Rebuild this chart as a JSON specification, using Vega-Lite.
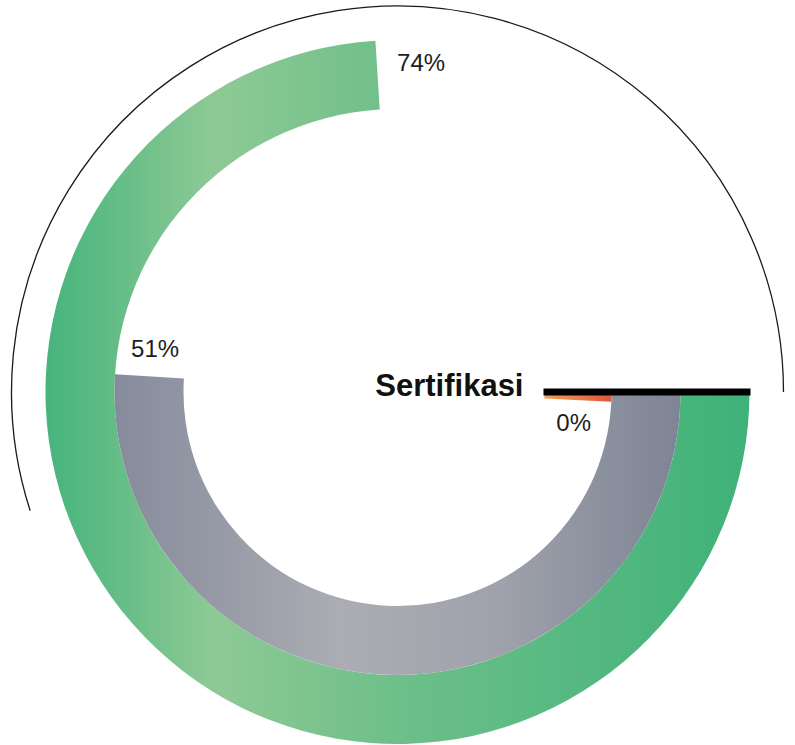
{
  "$schema": "https://vega.github.io/schema/vega-lite/v6.json",
  "width": 795,
  "height": 706,
  "autosize": {"type": "none"},
  "padding": {"left": 0, "right": 0, "top": 39, "bottom": 0},
  "background": "white",
  "config": {"view": {"stroke": null}},
  "data": {
    "values": [
      {"seri": "hijau", "nilai": 0.74},
      {"seri": "abu", "nilai": 0.51},
      {"seri": "oranye", "nilai": 0.0}
    ]
  },
  "layer": [
    {
      "transform": [{"filter": "datum.seri === 'hijau'"}],
      "mark": {"type": "arc", "filled": false, "stroke": "#1a1a1a", "strokeWidth": 1.3, "radius": 386, "radius2": 386, "theta": 4.40, "theta2": 7.854},
      "encoding": {}
    },
    {
      "transform": [{"filter": "datum.seri === 'hijau'"}],
      "mark": {
        "type": "arc", "radius": 352, "radius2": 283,
        "fill": {"gradient": "linear", "x1": 0, "y1": 0, "x2": 1, "y2": 0,
          "stops": [
            {"offset": 0, "color": "#46b47c"},
            {"offset": 0.24, "color": "#8ec995"},
            {"offset": 0.5, "color": "#6ebf89"},
            {"offset": 1, "color": "#3fb279"}
          ]}
      },
      "encoding": {
        "theta": {"field": "nilai", "type": "quantitative", "stack": null, "scale": {"domain": [0, 1], "range": [1.5708, 7.854]}},
        "theta2": {"datum": 0}
      }
    },
    {
      "transform": [{"filter": "datum.seri === 'abu'"}],
      "mark": {
        "type": "arc", "radius": 283, "radius2": 214,
        "fill": {"gradient": "linear", "x1": 0, "y1": 0, "x2": 1, "y2": 0,
          "stops": [
            {"offset": 0, "color": "#868b9c"},
            {"offset": 0.4, "color": "#abadb3"},
            {"offset": 0.68, "color": "#9fa2ab"},
            {"offset": 1, "color": "#7e8495"}
          ]}
      },
      "encoding": {
        "theta": {"field": "nilai", "type": "quantitative", "stack": null, "scale": {"domain": [0, 1], "range": [1.5708, 7.854]}},
        "theta2": {"datum": 0}
      }
    },
    {
      "transform": [{"filter": "datum.seri === 'oranye'"}],
      "mark": {
        "type": "arc", "radius": 214, "radius2": 147, "theta2Offset": 0.045,
        "fill": {"gradient": "linear", "x1": 0, "y1": 0, "x2": 1, "y2": 0,
          "stops": [
            {"offset": 0, "color": "#f2a05c"},
            {"offset": 1, "color": "#e0553b"}
          ]}
      },
      "encoding": {
        "theta": {"field": "nilai", "type": "quantitative", "stack": null, "scale": {"domain": [0, 1], "range": [1.5708, 7.854]}},
        "theta2": {"datum": 0}
      }
    },
    {
      "transform": [{"filter": "datum.seri === 'hijau'"}],
      "mark": {"type": "arc", "filled": false, "stroke": "#000000", "strokeWidth": 7, "radius": 353, "radius2": 146},
      "encoding": {
        "theta": {"datum": 0, "type": "quantitative", "scale": {"domain": [0, 1], "range": [1.5708, 7.854]}},
        "theta2": {"datum": 0}
      }
    },
    {
      "transform": [{"filter": "datum.seri === 'hijau'"}],
      "mark": {"type": "text", "radius": 329, "thetaOffset": 0.1345, "fontSize": 24, "font": "Liberation Sans", "color": "#1d1d1d"},
      "encoding": {
        "theta": {"field": "nilai", "type": "quantitative", "stack": null, "scale": {"domain": [0, 1], "range": [1.5708, 7.854]}},
        "text": {"field": "nilai", "type": "quantitative", "format": ".0%"}
      }
    },
    {
      "transform": [{"filter": "datum.seri === 'abu'"}],
      "mark": {"type": "text", "radius": 246, "thetaOffset": 0.109, "fontSize": 24, "font": "Liberation Sans", "color": "#1d1d1d"},
      "encoding": {
        "theta": {"field": "nilai", "type": "quantitative", "stack": null, "scale": {"domain": [0, 1], "range": [1.5708, 7.854]}},
        "text": {"field": "nilai", "type": "quantitative", "format": ".0%"}
      }
    },
    {
      "transform": [{"filter": "datum.seri === 'oranye'"}],
      "mark": {"type": "text", "radius": 179, "thetaOffset": 0.179, "fontSize": 24, "font": "Liberation Sans", "color": "#1d1d1d"},
      "encoding": {
        "theta": {"field": "nilai", "type": "quantitative", "stack": null, "scale": {"domain": [0, 1], "range": [1.5708, 7.854]}},
        "text": {"field": "nilai", "type": "quantitative", "format": ".0%"}
      }
    },
    {
      "data": {"values": [{"judul": "Sertifikasi"}]},
      "mark": {"type": "text", "radius": 126, "align": "right", "baseline": "alphabetic", "dy": 4, "fontSize": 31, "fontWeight": "bold", "font": "Liberation Sans", "color": "#111111"},
      "encoding": {
        "theta": {"datum": 0, "type": "quantitative", "scale": {"domain": [0, 1], "range": [1.5708, 7.854]}},
        "text": {"field": "judul", "type": "nominal"}
      }
    }
  ]
}
